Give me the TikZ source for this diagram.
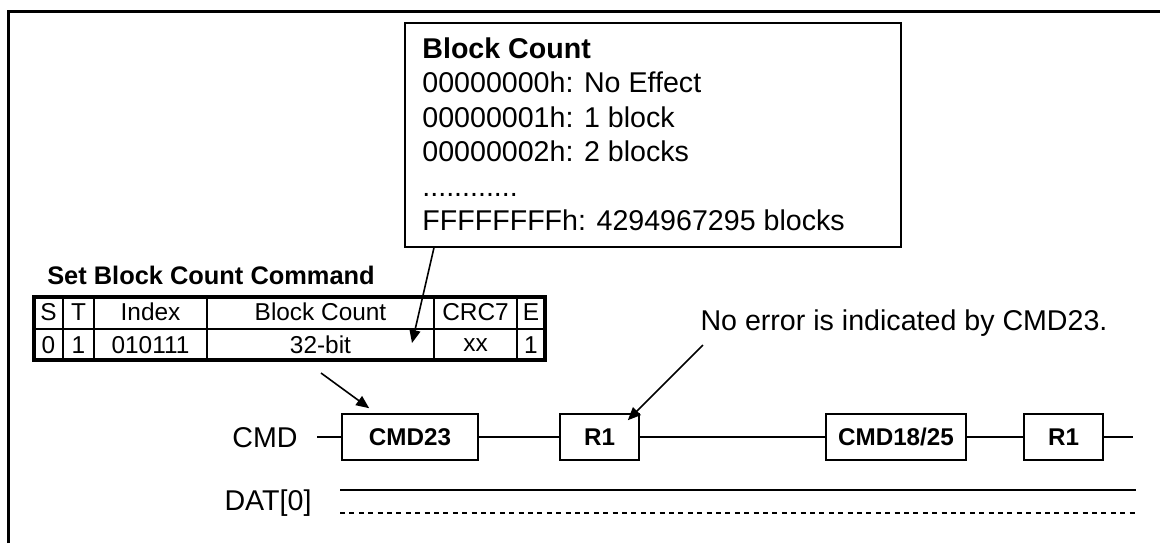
\documentclass[tikz,border=0pt]{standalone}
\usepackage{fontspec}
\setmainfont{Liberation Sans}
\usetikzlibrary{arrows.meta,positioning}

\begin{document}
\begin{tikzpicture}[
  x=0.5pt, y=-0.5pt,
  >={Triangle[length=6.5pt,width=5.5pt]},
  txt/.style={inner sep=0pt, font=\fontsize{14.3}{17.2}\selectfont},
  cell/.style={inner sep=0pt, font=\fontsize{12.2}{14}\selectfont},
  pkt/.style={draw, line width=0.8pt, minimum height=23pt, inner sep=0pt,
    font=\bfseries\fontsize{12.1}{14}\selectfont},
  wire/.style={line width=0.8pt},
  pointer/.style={->, line width=0.8pt},
  frame/.style={line width=1.5pt},
  tblframe/.style={line width=1.8pt},
]
  \useasboundingbox (0,0) rectangle (1160,543);

  % outer frame (open to the right and bottom)
  \draw[frame] (8,543) -- (8,11) -- (1160,11);

  % block count argument box
  \node[draw, line width=0.8pt, anchor=north west, minimum width=248pt,
        minimum height=112pt, inner sep=0pt] (bc) at (404,22) {};
  \node[txt, anchor=north west, align=left,
        font=\fontsize{14.3}{17.25}\selectfont] (bctxt) at (422,37)
       {\textbf{Block Count}\\
        00000000h: No Effect\\
        00000001h: 1 block\\
        00000002h: 2 blocks\\
        ............\\
        FFFFFFFFh: 4294967295 blocks};

  % CMD23 token
  \node[inner sep=0pt, font=\bfseries\fontsize{12.7}{15}\selectfont]
       (title) at (211,275) {Set Block Count Command};
  \draw[wire] (34,329) -- (545,329);
  \foreach \xs in {63,94,207,434,517}
    \draw[wire] (\xs,297) -- (\xs,360);
  \draw[tblframe] (34,297) rectangle (545,360);
  \foreach \cx/\hd/\vl [count=\i] in {48.5/S/0, 78.5/T/1, 150.5/Index/010111,
      320.5/Block Count/32-bit, 475.5/CRC7/xx, 531/E/1} {
    \node[cell] (hd\i) at (\cx,312) {\hd};
    \node[cell] (vl\i) at (\cx,345) {\vl};
  }

  % bus lines
  \node[txt] (cmdlbl) at (265,438) {CMD};
  \node[txt] (datlbl) at (268,503) {DAT[0]};
  \node[pkt, minimum width=68pt] (cmd23) at (410,437) {CMD23};
  \node[pkt, minimum width=39.5pt] (r1a) at (599.5,437) {R1};
  \node[pkt, minimum width=70pt] (cmd1825) at (896,437) {CMD18/25};
  \node[pkt, minimum width=39.5pt] (r1b) at (1063.5,437) {R1};
  \coordinate (cmdbeg) at (317,437);
  \coordinate (cmdend) at (1133,437);
  \draw[wire] (cmdbeg) -- (cmd23) -- (r1a) -- (cmd1825) -- (r1b) -- (cmdend);

  \coordinate (datbeg) at (340,490);
  \coordinate (datend) at (1136,490);
  \coordinate (dzbeg) at (340,513);
  \coordinate (dzend) at (1136,513);
  \draw[wire] (datbeg) -- (datend);
  \draw[wire, dash pattern=on 2.5pt off 2.2pt] (dzbeg) -- (dzend);

  % callouts
  \node[txt] (note) at (904,323) {No error is indicated by CMD23.};
  \coordinate (bcpin) at (412,343);
  \coordinate (tokpin) at (321,373);
  \coordinate (notepin) at (703,345);
  \draw[pointer] ([xshift=15pt]bc.south west) -- (bcpin);
  \draw[pointer] (tokpin) -- ([xshift=14pt,yshift=2.5pt]cmd23.north west);
  \draw[pointer] (notepin) -- ([xshift=-6pt,yshift=-3.5pt]r1a.north east);
\end{tikzpicture}
\end{document}
